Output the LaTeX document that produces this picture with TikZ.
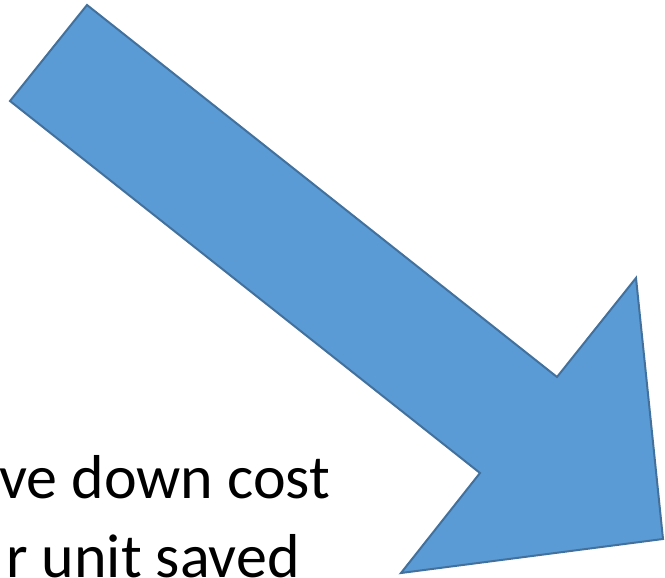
\documentclass[tikz,border=0pt]{standalone}
\usepackage{fontspec}
\setmainfont{Carlito}
\usepackage{tikz}
\definecolor{cfill}{HTML}{5B9BD5}
\definecolor{cline}{HTML}{41719C}

\begin{document}
\begin{tikzpicture}[x=1pt,y=-1pt,every node/.style={font=\fontsize{62}{74}\selectfont,inner sep=0pt}]
  \useasboundingbox (0,0) rectangle (665,578);
  \clip (0,0) rectangle (665,578);
  \fill[white] (0,0) rectangle (665,578);
  % arrow
  \draw[cline,fill=cfill,line width=2pt,line join=miter]
    (87,5) -- (557,377) -- (636,278) -- (663,539) -- (401,573) -- (480,473) -- (10,101) -- cycle;
  % text, cut at the left edge
  \node[anchor=base west] (line1) at (-1,498) {ve down cost};
  \node[anchor=base west] (line2) at (6,577) {r unit saved};
\end{tikzpicture}
\end{document}
